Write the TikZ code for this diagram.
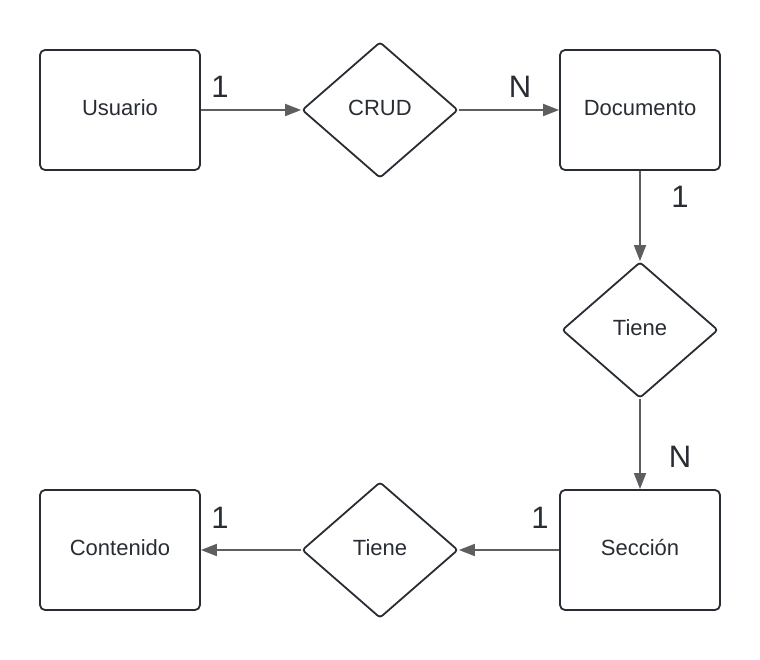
\documentclass[tikz,border=0pt]{standalone}
\usepackage{fontspec}
\setmainfont{Liberation Sans}
\usetikzlibrary{arrows.meta,shapes.geometric}
\definecolor{stroke}{HTML}{282C33}
\definecolor{arr}{HTML}{5E5E5E}
\begin{document}
\begin{tikzpicture}[x=1pt,y=-1pt,
  entity/.style={draw=stroke,line width=1.8pt,rounded corners=5pt,minimum width=160pt,minimum height=120pt,inner sep=0pt,font=\fontsize{22}{26}\selectfont,text=stroke,text height=14pt,text depth=3.2pt},
  rel/.style={draw=stroke,line width=1.8pt,diamond,rounded corners=3pt,minimum width=156pt,minimum height=136pt,inner sep=0pt,aspect=1.15,font=\fontsize{22}{26}\selectfont,text=stroke,text height=14pt,text depth=3.2pt},
  conn/.style={draw=arr,line width=1.8pt,-{Triangle[length=16pt,width=12pt]}},
  card/.style={font=\fontsize{31}{36}\selectfont,text=stroke,inner sep=0pt}]
\useasboundingbox (0,0) rectangle (760,660);
\node[entity] (usuario) at (120,110) {Usuario};
\node[rel] (crud) at (380,110) {CRUD};
\node[entity] (doc) at (640,110) {Documento};
\node[rel] (tiene1) at (640,330) {Tiene};
\node[entity] (sec) at (640,550) {Sección};
\node[rel] (tiene2) at (380,550) {Tiene};
\node[entity] (cont) at (120,550) {Contenido};
\draw[conn] (usuario.east) -- (crud.west);
\draw[conn] (crud.east) -- (doc.west);
\draw[conn] (doc.south) -- (tiene1.north);
\draw[conn] (tiene1.south) -- (sec.north);
\draw[conn] (sec.west) -- (tiene2.east);
\draw[conn] (tiene2.west) -- (cont.east);
\node[card] (c1) at (220,87) {1};
\node[card] (c2) at (520,87) {N};
\node[card] (c3) at (680,197) {1};
\node[card] (c4) at (680,457) {N};
\node[card] (c5) at (540,518) {1};
\node[card] (c6) at (220,518) {1};
\end{tikzpicture}
\end{document}
